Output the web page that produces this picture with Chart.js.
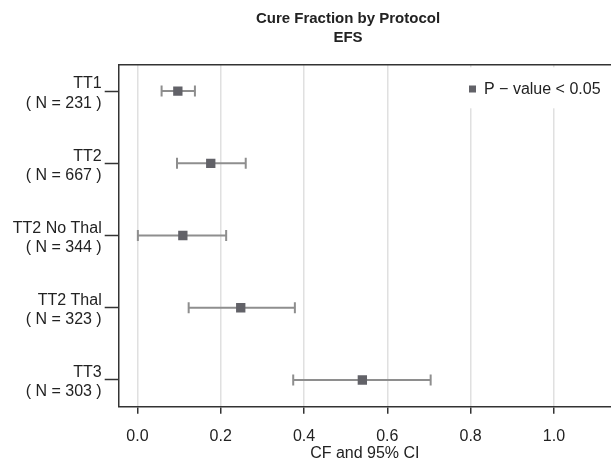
<!DOCTYPE html>
<html>
<head>
<meta charset="utf-8">
<script src="https://cdn.jsdelivr.net/npm/chart.js@4"></script>
<style>
  body { margin: 0; background: #fff; }
  #wrap { width: 611px; height: 469px; }
</style>
</head>
<body>
<div id="wrap"><canvas id="cf-chart"></canvas></div>
<script>
const protocols = ["TT1", "TT2", "TT2 No Thal", "TT2 Thal", "TT3"];
const sampleSizes = [231, 667, 344, 323, 303];
const cureFraction = [0.097, 0.176, 0.109, 0.248, 0.540];
const ciLower = [0.058, 0.095, 0.001, 0.123, 0.374];
const ciUpper = [0.138, 0.260, 0.213, 0.378, 0.704];
const xTicks = [0.0, 0.2, 0.4, 0.6, 0.8, 1.0];

const dark = "#333333";
const markGrey = "#626268";
const barGrey = "#8e8e8e";
const fontFamily = "'Liberation Sans', Arial, sans-serif";

// markers first so they sit on top of the interval lines
let datasets = [
    {
        label: "P \u2212 value < 0.05",
        data: cureFraction.map((v, i) => ({ x: v, y: i })),
        pointStyle: "rect",
        pointRadius: 6.6,
        pointHoverRadius: 6.6,
        backgroundColor: markGrey,
        borderColor: markGrey,
        pointBorderWidth: 0,
    },
];
protocols.forEach((p, i) => {
    datasets.push({
        label: p + " CI",
        data: [
            { x: ciLower[i], y: i },
            { x: ciUpper[i], y: i },
        ],
        showLine: true,
        borderColor: barGrey,
        borderWidth: 2,
        pointStyle: "line",
        pointRotation: 90,
        pointRadius: 5.5,
        pointHoverRadius: 5.5,
        pointBorderWidth: 2,
        pointBorderColor: barGrey,
    });
});

// top edge of the plot box; y labels may use the space left of the axis;
// legend moved to the top right corner of the plot on a white patch
const frame = {
    id: "frame",
    afterLayout(chart) {
        chart.scales.y.left = 0;
        const lg = chart.legend;
        const w = lg.width;
        lg.left = 457;
        lg.right = lg.left + w;
        lg.top = chart.chartArea.top + 4.3;
    },
    afterDatasetsDraw(chart) {
        const a = chart.chartArea;
        const ctx = chart.ctx;
        ctx.save();
        ctx.fillStyle = "#fff";
        ctx.fillRect(461, a.top + 2.5, a.right - 461, 41);
        ctx.strokeStyle = dark;
        ctx.lineWidth = 1.5;
        ctx.beginPath();
        ctx.moveTo(a.left, a.top);
        ctx.lineTo(a.right, a.top);
        ctx.stroke();
        ctx.restore();
        chart.legend.draw();
    },
};

const config = {
    type: "scatter",
    data: { datasets: datasets },
    options: {
        responsive: true,
        maintainAspectRatio: false,
        animation: false,
        layout: { autoPadding: false, padding: { left: 85, right: 0, top: 0, bottom: 0 } },
        plugins: {
            tooltip: { enabled: false },
            title: {
                display: true,
                text: ["Cure Fraction by Protocol", "EFS"],
                color: "#222",
                font: { family: fontFamily, size: 15, weight: "bold", lineHeight: 1.27 },
                padding: { top: 9.5, bottom: 17.2 },
            },
            legend: {
                position: "chartArea",
                align: "start",
                labels: {
                    filter: (item) => item.datasetIndex === 0,
                    usePointStyle: true,
                    boxHeight: 7,
                    boxWidth: 7,
                    padding: 12,
                    color: "#222",
                    font: { family: fontFamily, size: 16 },
                },
            },
        },
        scales: {
            x: {
                type: "linear",
                min: -0.045,
                max: 1.137,
                afterBuildTicks: (scale) => {
                    scale.ticks = xTicks.map((v) => ({ value: v }));
                },
                afterFit: (scale) => {
                    scale.height = 62.3;
                },
                ticks: {
                    callback: (v) => Number(v).toFixed(1),
                    color: "#222",
                    padding: 13,
                    maxRotation: 0,
                    font: { family: fontFamily, size: 16 },
                },
                grid: {
                    color: "#e0e0e0",
                    lineWidth: 1.5,
                    tickColor: dark,
                    tickLength: 7,
                    tickWidth: 1.5,
                },
                border: { display: true, color: dark, width: 1.5 },
                title: {
                    display: true,
                    text: "CF and 95% CI",
                    color: "#222",
                    padding: { top: 4, bottom: 6 },
                    font: { family: fontFamily, size: 16 },
                },
            },
            y: {
                type: "linear",
                reverse: true,
                min: -0.364,
                max: 4.37,
                afterBuildTicks: (scale) => {
                    scale.ticks = protocols.map((p, i) => ({ value: i }));
                },
                afterFit: (scale) => {
                    scale.width = 33.7;
                },
                ticks: {
                    callback: (v) => [protocols[v], "( N = " + sampleSizes[v] + " )"],
                    color: "#222",
                    padding: 3,
                    labelOffset: 2.5,
                    font: { family: fontFamily, size: 16, lineHeight: 1.2 },
                },
                grid: {
                    drawOnChartArea: false,
                    tickColor: dark,
                    tickLength: 14,
                    tickWidth: 1.5,
                },
                border: { display: true, color: dark, width: 1.5 },
            },
        },
    },
    plugins: [frame],
};

var cfChart = new Chart(document.getElementById("cf-chart"), config);
</script>
</body>
</html>
